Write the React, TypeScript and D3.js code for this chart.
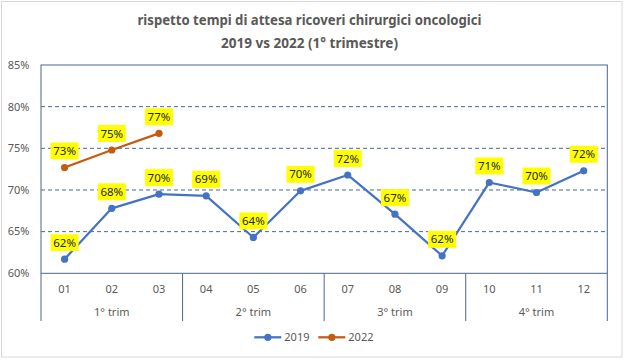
import React from "react";
import * as d3 from "d3";

const months = ["01", "02", "03", "04", "05", "06", "07", "08", "09", "10", "11", "12"];
const quarters = ["1° trim", "2° trim", "3° trim", "4° trim"];
const values2019 = [61.7, 67.8, 69.5, 69.3, 64.3, 69.9, 71.8, 67.1, 62.1, 70.9, 69.7, 72.3];
const values2022 = [72.7, 74.8, 76.8];
const yTicks = [60, 65, 70, 75, 80, 85];
const titleLines = ["rispetto tempi di attesa ricoveri chirurgici oncologici", "2019 vs 2022 (1° trimestre)"];
const seriesNames = ["2019", "2022"];

const W = 628;
const H = 364;
const BLUE = "#4472C4";
const ORANGE = "#C55A11";
const AXIS = "#4A6690";
const TXT = "#595959";
const FONT = "'Noto Sans', 'Open Sans', sans-serif";

export default function App() {
  const left = 41;
  const right = 607.3;
  const top = 65;
  const bottom = 273.3;
  const x = d3.scaleBand<string>().domain(months).range([left, right]).paddingInner(0).paddingOuter(0);
  const y = d3.scaleLinear().domain([60, 85]).range([bottom, top]);
  const cx = (m: string) => (x(m) as number) + x.bandwidth() / 2;

  const line = d3
    .line<number>()
    .x((_, i) => cx(months[i]))
    .y((d) => y(d));

  const series = [
    { name: seriesNames[0], values: values2019, color: BLUE },
    { name: seriesNames[1], values: values2022, color: ORANGE },
  ];

  const qWidth = (right - left) / quarters.length;
  const boundaries = d3.range(quarters.length + 1).map((i) => left + i * qWidth);

  return (
    <svg width={W} height={H} style={{ position: "fixed", left: 0, top: 0, background: "#fff" }} fontFamily={FONT}>
      <rect x={0} y={0} width={W} height={H} fill="#fff" />
      <rect x={1.5} y={1.5} width={620.5} height={355.5} fill="#fff" stroke="#d9d9d9" strokeWidth={1} />
      {/* title */}
      <text x={309.5} y={25} textAnchor="middle" fontSize={14} fontWeight="bold" fill={TXT} textLength={344} lengthAdjust="spacingAndGlyphs">
        {titleLines[0]}
      </text>
      <text x={309.5} y={47.5} textAnchor="middle" fontSize={14} fontWeight="bold" fill={TXT} textLength={177} lengthAdjust="spacingAndGlyphs">
        {titleLines[1]}
      </text>
      {/* gridlines */}
      {yTicks.map((t) => (
        <g key={t}>
          {t > 60 && t < 85 && (
            <line x1={left} x2={right} y1={y(t)} y2={y(t)} stroke={AXIS} strokeWidth={1} strokeDasharray="4,3" />
          )}
          <text x={29.5} y={y(t)} dy="0.35em" textAnchor="end" fontSize={11} fill={TXT}>
            {t}%
          </text>
        </g>
      ))}
      {/* plot border */}
      <rect x={left} y={top} width={right - left} height={bottom - top} fill="none" stroke={AXIS} strokeWidth={1} />
      {/* category axis */}
      {boundaries.map((b, i) => (
        <line key={i} x1={b} x2={b} y1={bottom} y2={321} stroke={AXIS} strokeWidth={1} />
      ))}
      {months.map((m) => (
        <text key={m} x={cx(m)} y={289.5} dy="0.35em" textAnchor="middle" fontSize={11} fill={TXT}>
          {m}
        </text>
      ))}
      {quarters.map((q, i) => (
        <text key={q} x={left + (i + 0.5) * qWidth} y={312.5} dy="0.35em" textAnchor="middle" fontSize={11} fill={TXT}>
          {q}
        </text>
      ))}
      {/* series */}
      {series.map((s) => (
        <g key={s.name}>
          <path d={line(s.values) as string} fill="none" stroke={s.color} strokeWidth={2.25} strokeLinejoin="round" />
          {s.values.map((v, i) => (
            <circle key={i} cx={cx(months[i])} cy={y(v)} r={3.6} fill={s.color} />
          ))}
        </g>
      ))}
      {/* data labels */}
      {series.map((s) =>
        s.values.map((v, i) => {
          const px = cx(months[i]);
          const py = y(v) - 16.5;
          return (
            <g key={s.name + i}>
              <rect x={px - 14} y={py - 8.5} width={28} height={17} fill="#FFFF00" />
              <text x={px} y={py} dy="0.36em" textAnchor="middle" fontSize={11.5} fill="#262626">
                {Math.round(v)}%
              </text>
            </g>
          );
        })
      )}
      {/* legend */}
      {series.map((s, i) => {
        const lx = i === 0 ? 254.3 : 318.3;
        const ly = 337.3;
        return (
          <g key={s.name}>
            <line x1={lx} x2={lx + 27} y1={ly} y2={ly} stroke={s.color} strokeWidth={2.25} />
            <circle cx={lx + 13.5} cy={ly} r={3.6} fill={s.color} />
            <text x={lx + 30} y={ly} dy="0.35em" fontSize={11} fill={TXT}>
              {s.name}
            </text>
          </g>
        );
      })}
    </svg>
  );
}
